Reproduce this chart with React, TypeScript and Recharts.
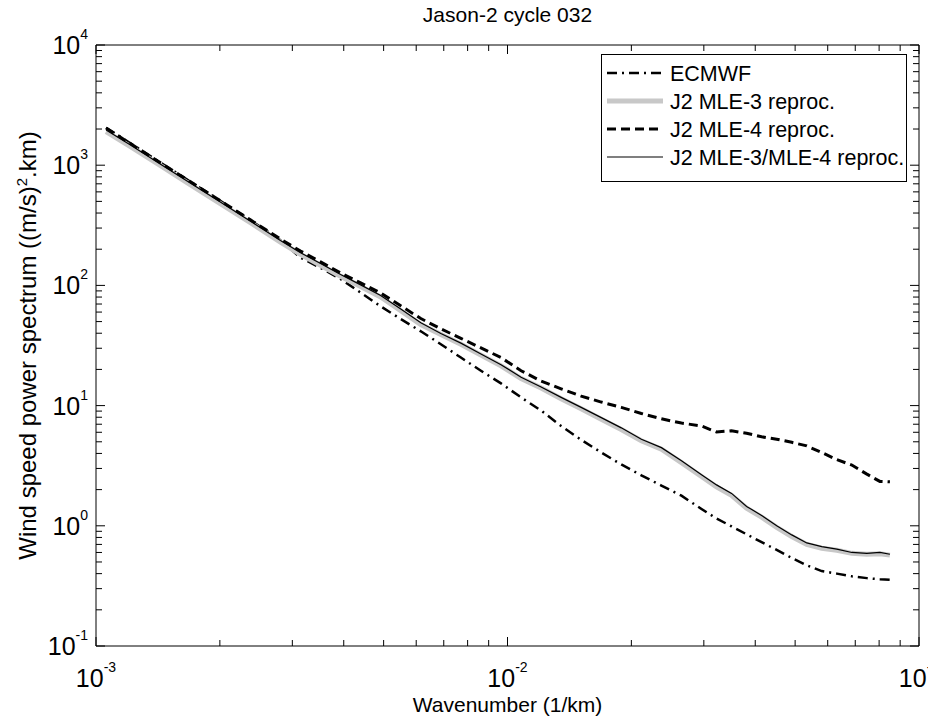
import React from 'react';
import { LineChart, Line, XAxis, YAxis, ReferenceLine, Legend, Label } from 'recharts';

// wavenumber (1/km) sampled along the curves
const wavenumbers = [
  0.001058, 0.00121, 0.001432, 0.001694, 0.002005, 0.002373, 0.002807, 0.003141,
  0.003513, 0.00393, 0.004397, 0.004918, 0.005503, 0.006157, 0.006887, 0.007704,
  0.008619, 0.009643, 0.01079, 0.01207, 0.0135, 0.0151, 0.0169, 0.0189,
  0.02115, 0.02366, 0.02647, 0.02961, 0.03221, 0.03503, 0.03811, 0.04145,
  0.0451, 0.04906, 0.05336, 0.05803, 0.06313, 0.06868, 0.0747, 0.08035, 0.08498
];

const ecmwf = [
  2050, 1530, 1055, 732, 506, 349, 238, 170,
  140, 113, 87, 67, 52.5, 41.5, 32.4, 25.1,
  19.5, 15.3, 11.7, 9.1, 6.76, 5.19, 4.07, 3.24,
  2.63, 2.16, 1.78, 1.38, 1.15, 0.99, 0.85, 0.73,
  0.63, 0.54, 0.47, 0.42, 0.4, 0.38, 0.367, 0.359, 0.355
];

const mle3 = [
  1900, 1435, 995, 690, 479, 332, 229, 181,
  147, 119, 98, 80, 61.5, 47.3, 39, 32.4,
  26.3, 21.4, 16.8, 14.0, 11.4, 9.4, 7.7, 6.33,
  5.1, 4.33, 3.35, 2.57, 2.11, 1.79, 1.4, 1.18,
  0.97, 0.815, 0.7, 0.65, 0.625, 0.59, 0.58, 0.585, 0.57
];

const mle4 = [
  2037, 1520, 1052, 731, 507, 351, 243, 193,
  157, 127, 105, 86.4, 67.6, 53, 43.5, 36.3,
  30.2, 25.1, 19.5, 16.0, 13.8, 12.0, 10.7, 9.66,
  8.6, 7.76, 7.16, 6.76, 6.03, 6.17, 5.89, 5.5,
  5.25, 4.95, 4.62, 4.07, 3.55, 3.2, 2.69, 2.34, 2.32
];

const mle34 = [
  1960, 1480, 1025, 712, 494, 342, 236, 187,
  152, 123, 101, 82.5, 63.5, 48.8, 39.8, 33.1,
  26.9, 21.9, 17.2, 14.3, 11.7, 9.66, 7.94, 6.53,
  5.25, 4.47, 3.47, 2.66, 2.19, 1.86, 1.45, 1.22,
  1.0, 0.84, 0.72, 0.67, 0.64, 0.6, 0.59, 0.6, 0.58
];

const xTicks = [
  0.001, 0.002, 0.003, 0.004, 0.005, 0.006, 0.007, 0.008, 0.009,
  0.01, 0.02, 0.03, 0.04, 0.05, 0.06, 0.07, 0.08, 0.09, 0.1
];
const yTicks = [
  0.1, 0.2, 0.3, 0.4, 0.5, 0.6, 0.7, 0.8, 0.9,
  1, 2, 3, 4, 5, 6, 7, 8, 9,
  10, 20, 30, 40, 50, 60, 70, 80, 90,
  100, 200, 300, 400, 500, 600, 700, 800, 900,
  1000, 2000, 3000, 4000, 5000, 6000, 7000, 8000, 9000, 10000
];

const seriesNames = ['ECMWF', 'J2 MLE-3 reproc.', 'J2 MLE-4 reproc.', 'J2 MLE-3/MLE-4 reproc.'];

const data = wavenumbers.map((k, i) => ({
  k,
  ecmwf: ecmwf[i],
  mle3: mle3[i],
  mle4: mle4[i],
  mle34: mle34[i]
}));

const W = 928;
const H = 721;
const PLOT = { left: 96, right: 919, top: 45, bottom: 646 };
const FONT = '"Liberation Sans", Arial, Helvetica, sans-serif';

const isMajor = (v: number) => Math.abs(Math.log10(v) - Math.round(Math.log10(v))) < 1e-6;

const XTick = ({ x, payload }: any) => {
  const major = isMajor(payload.value);
  const len = major ? 9 : 6;
  return (
    <g>
      <line x1={x} x2={x} y1={PLOT.bottom} y2={PLOT.bottom - len} stroke="#000" />
      <line x1={x} x2={x} y1={PLOT.top} y2={PLOT.top + len} stroke="#000" />
      {major && (
        <text x={x} y={PLOT.bottom + 41} textAnchor="middle" fontSize={25} fontFamily={FONT} fill="#000">
          10<tspan dy={-15} fontSize={14}>{Math.round(Math.log10(payload.value))}</tspan>
        </text>
      )}
    </g>
  );
};

const YTick = ({ y, payload }: any) => {
  const major = isMajor(payload.value);
  const len = major ? 9 : 6;
  return (
    <g>
      <line x1={PLOT.left} x2={PLOT.left + len} y1={y} y2={y} stroke="#000" />
      <line x1={PLOT.right - len} x2={PLOT.right} y1={y} y2={y} stroke="#000" />
      {major && (
        <text x={PLOT.left - 8} y={y + 9} textAnchor="end" fontSize={25} fontFamily={FONT} fill="#000">
          10<tspan dy={-15} fontSize={14}>{Math.round(Math.log10(payload.value))}</tspan>
        </text>
      )}
    </g>
  );
};

// legend drawn as a MATLAB-style box
const LegendBox = () => {
  const samples = [
    { stroke: '#000', width: 2.5, dash: '10 5 2 5' },
    { stroke: '#c8c8c8', width: 5, dash: undefined },
    { stroke: '#000', width: 3, dash: '9 5' },
    { stroke: '#000', width: 1.2, dash: undefined }
  ];
  return (
    <svg width={306} height={128} style={{ display: 'block' }}>
      <rect x={0.5} y={0.5} width={305} height={127} fill="#fff" stroke="#000" />
      {seriesNames.map((name, i) => {
        const cy = 19 + i * 28;
        const s = samples[i];
        return (
          <g key={name}>
            <line x1={6} x2={62} y1={cy} y2={cy} stroke={s.stroke} strokeWidth={s.width} strokeDasharray={s.dash} />
            <text x={69} y={cy + 7.5} fontSize={21.5} fontFamily={FONT} fill="#000">{name}</text>
          </g>
        );
      })}
    </svg>
  );
};

const YLabel = () => {
  const cy = (PLOT.top + PLOT.bottom) / 2;
  return (
    <text x={36} y={cy} transform={`rotate(-90 36 ${cy})`} textAnchor="middle" fontSize={24} fontFamily={FONT} fill="#000">
      Wind speed power spectrum ((m/s)<tspan dy={-9} fontSize={15}>2</tspan><tspan dy={9}>.km)</tspan>
    </text>
  );
};

const XLabel = () => (
  <text x={(PLOT.left + PLOT.right) / 2} y={712} textAnchor="middle" fontSize={21} fontFamily={FONT} fill="#000">
    Wavenumber (1/km)
  </text>
);

export default function App() {
  return (
    <div style={{ position: 'absolute', left: 0, top: 0, width: W, height: H, background: '#fff' }}>
      <LineChart
        width={W}
        height={H}
        data={data}
        margin={{ top: PLOT.top, right: W - PLOT.right, left: 0, bottom: 0 }}
      >
        <XAxis
          dataKey="k"
          type="number"
          scale="log"
          domain={[0.001, 0.1]}
          ticks={xTicks}
          interval={0}
          height={H - PLOT.bottom}
          tick={<XTick />}
          tickLine={false}
          axisLine={{ stroke: '#000' }}
          allowDataOverflow
        >
          <Label content={() => <XLabel />} />
        </XAxis>
        <YAxis
          type="number"
          scale="log"
          domain={[0.1, 10000]}
          ticks={yTicks}
          interval={0}
          width={PLOT.left}
          tick={<YTick />}
          tickLine={false}
          axisLine={{ stroke: '#000' }}
          allowDataOverflow
        >
          <Label content={() => <YLabel />} />
        </YAxis>
        <ReferenceLine y={10000} stroke="#000" />
        <ReferenceLine x={0.1} stroke="#000" />
        <text x={(PLOT.left + PLOT.right) / 2} y={22} textAnchor="middle" fontSize={21} fontFamily={FONT} fill="#000">
          Jason-2 cycle 032
        </text>
        <Line dataKey="ecmwf" name={seriesNames[0]} type="linear" stroke="#000" strokeWidth={2.5} strokeDasharray="10 5 2 5" dot={false} isAnimationActive={false} />
        <Line dataKey="mle3" name={seriesNames[1]} type="linear" stroke="#c8c8c8" strokeWidth={5} dot={false} isAnimationActive={false} />
        <Line dataKey="mle4" name={seriesNames[2]} type="linear" stroke="#000" strokeWidth={3} strokeDasharray="9 5" dot={false} isAnimationActive={false} />
        <Line dataKey="mle34" name={seriesNames[3]} type="linear" stroke="#000" strokeWidth={1.2} dot={false} isAnimationActive={false} />
        <Legend
          layout="vertical"
          align="center"
          verticalAlign="middle"
          content={() => <LegendBox />}
          wrapperStyle={{ left: 601, top: 54, width: 306, height: 128 }}
        />
      </LineChart>
    </div>
  );
}
